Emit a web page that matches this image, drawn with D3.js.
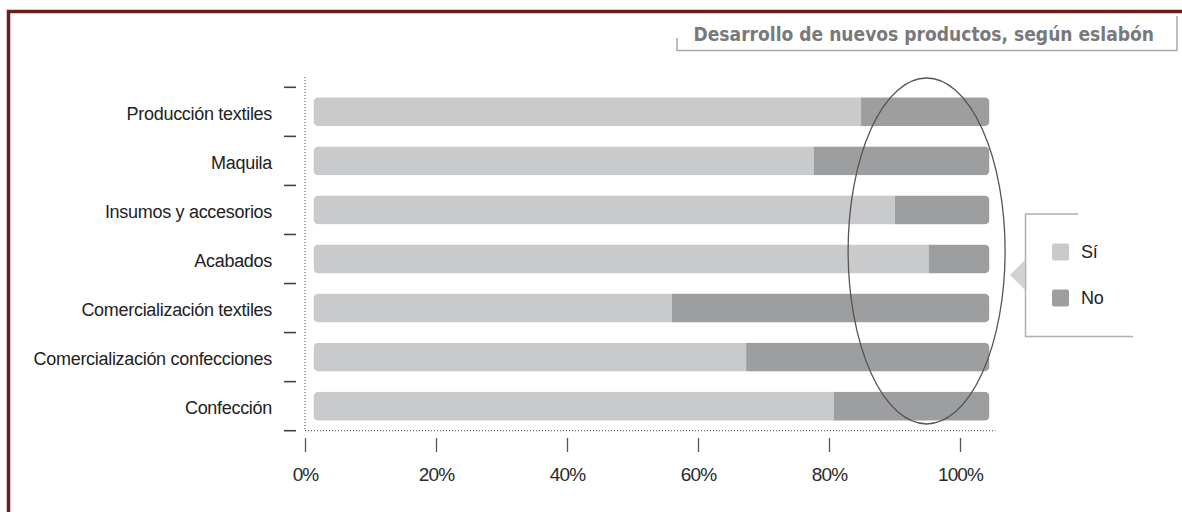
<!DOCTYPE html>
<html>
<head>
<meta charset="utf-8">
<script src="https://cdn.jsdelivr.net/npm/d3@7"></script>
<style>
  body { margin: 0; background: #fff; }
  svg { display: block; }
  .cat { font-family: "Liberation Sans", Arial, sans-serif; font-size: 18px; letter-spacing: -0.3px; fill: #222; }
  .xaxis text { font-family: "Liberation Sans", Arial, sans-serif; font-size: 19px; letter-spacing: -0.9px; fill: #2a2a2a; }
  .xaxis line { stroke: #555; stroke-width: 1.3; }
  .title { font-family: "Liberation Sans Narrow", "DejaVu Sans Condensed", "Liberation Sans", sans-serif; font-weight: bold; fill: #78797b; }
  .legend text { font-family: "Liberation Sans", Arial, sans-serif; font-size: 18px; letter-spacing: -0.3px; fill: #222; }
</style>
</head>
<body>
<svg id="chart" width="1182" height="512"></svg>
<script>
// data (share of each bar)
const categories = ['Producción textiles', 'Maquila', 'Insumos y accesorios', 'Acabados',
                    'Comercialización textiles', 'Comercialización confecciones', 'Confección'];
const si = [81, 74, 86, 91, 53, 64, 77];
const no = [19, 26, 14, 9, 47, 36, 23];
const xTicks = [0, 20, 40, 60, 80, 100];
const seriesNames = ['Sí', 'No'];
const colors = ['#c9cacc', '#9d9ea0'];

const svg = d3.select('#chart');

// frame (only top and left visible)
svg.append('rect')
  .attr('x', 8.5).attr('y', 11.5)
  .attr('width', 1300).attr('height', 700)
  .attr('fill', 'none')
  .attr('stroke', '#6b1f1f')
  .attr('stroke-width', 3.5);

// title with its bracket
svg.append('path')
  .attr('d', 'M677,38 V50.5 H1177 V16')
  .attr('fill', 'none')
  .attr('stroke', '#a9a9a9')
  .attr('stroke-width', 1.5);

const title = svg.append('text')
  .attr('class', 'title')
  .attr('x', 1154)
  .attr('y', 40.5)
  .attr('text-anchor', 'end')
  .style('font-size', '22px')
  .text('Desarrollo de nuevos productos, según eslabón');
// fit the title to the width it has in the original (~461px)
const tw = title.node().getComputedTextLength();
if (tw > 0) title.style('font-size', Math.min(24, 22 * 461 / tw) + 'px');

// scales
const x = d3.scaleLinear().domain([0, 100]).range([305, 960]);
// bars in the original sit a little off the axis: from ~1.3% to ~104.5%
const xBar = d3.scaleLinear().domain([0, 100]).range([x(1.3), x(104.5)]);

const y = d3.scaleBand()
  .domain(categories)
  .range([87.3, 430.7])
  .paddingInner(0.41)
  .paddingOuter(0.205);

const gap = (y.step() - y.bandwidth()) / 2;

// dotted axis lines
svg.append('line')
  .attr('x1', x(0)).attr('x2', x(0))
  .attr('y1', 77).attr('y2', y.range()[1])
  .attr('stroke', '#666').attr('stroke-width', 1.2)
  .attr('stroke-dasharray', '1,2');

svg.append('line')
  .attr('x1', x(0)).attr('x2', xBar(100) + 6)
  .attr('y1', y.range()[1]).attr('y2', y.range()[1])
  .attr('stroke', '#666').attr('stroke-width', 1.2)
  .attr('stroke-dasharray', '1,2');

// y tick dashes at band boundaries
const bounds = categories.map(c => y(c) - gap).concat([y.range()[1]]);
svg.selectAll('.ydash')
  .data(bounds)
  .enter()
  .append('line')
  .attr('class', 'ydash')
  .attr('x1', x(0) - 21).attr('x2', x(0) - 9)
  .attr('y1', d => d).attr('y2', d => d)
  .attr('stroke', '#444').attr('stroke-width', 1.6);

// category labels
svg.selectAll('.cat')
  .data(categories)
  .enter()
  .append('text')
  .attr('class', 'cat')
  .attr('x', 272)
  .attr('y', d => y(d) + y.bandwidth() / 2)
  .attr('dy', '0.45em')
  .attr('text-anchor', 'end')
  .text(d => d);

// bars: rounded outline clip, then Sí and No segments
const rows = categories.map((c, i) => ({ cat: c, si: si[i], no: no[i], i: i }));

const defs = svg.append('defs');
rows.forEach(r => {
  defs.append('clipPath')
    .attr('id', 'clip' + r.i)
    .append('rect')
    .attr('x', xBar(0))
    .attr('y', y(r.cat))
    .attr('width', xBar(100) - xBar(0))
    .attr('height', y.bandwidth())
    .attr('rx', 5).attr('ry', 5);
});

const bars = svg.selectAll('.bar')
  .data(rows)
  .enter()
  .append('g')
  .attr('class', 'bar')
  .attr('clip-path', d => 'url(#clip' + d.i + ')');

bars.append('rect')
  .attr('x', xBar(0))
  .attr('y', d => y(d.cat))
  .attr('width', d => xBar(d.si) - xBar(0))
  .attr('height', y.bandwidth())
  .attr('fill', colors[0]);

bars.append('rect')
  .attr('x', d => xBar(d.si))
  .attr('y', d => y(d.cat))
  .attr('width', d => xBar(d.si + d.no) - xBar(d.si))
  .attr('height', y.bandwidth())
  .attr('fill', colors[1]);

// x axis
const xAxis = svg.append('g')
  .attr('class', 'xaxis')
  .attr('transform', 'translate(0,438)')
  .call(d3.axisBottom(x)
    .tickValues(xTicks)
    .tickFormat(d => d + '%')
    .tickSize(14)
    .tickPadding(16));
xAxis.select('.domain').remove();

// highlight ellipse
svg.append('ellipse')
  .attr('cx', xBar(90.7))
  .attr('cy', (y.range()[0] + y.range()[1]) / 2 - 8)
  .attr('rx', 78.5)
  .attr('ry', 173)
  .attr('fill', 'none')
  .attr('stroke', '#555')
  .attr('stroke-width', 1.3);

// legend
const legend = svg.append('g').attr('class', 'legend');

legend.append('path')
  .attr('d', 'M1078,214 H1025.5 V336.5 H1133')
  .attr('fill', 'none')
  .attr('stroke', '#b0b0b0')
  .attr('stroke-width', 1.5);

legend.append('path')
  .attr('d', 'M1010,275 L1025,260 L1025,290 Z')
  .attr('fill', '#d2d2d2');

const items = legend.selectAll('.item')
  .data(seriesNames)
  .enter()
  .append('g')
  .attr('class', 'item')
  .attr('transform', (d, i) => `translate(1052, ${243.5 + i * 46})`);

items.append('rect')
  .attr('width', 17).attr('height', 17)
  .attr('rx', 2)
  .attr('fill', (d, i) => colors[i]);

items.append('text')
  .attr('x', 29)
  .attr('y', 14)
  .text(d => d);
</script>
</body>
</html>
